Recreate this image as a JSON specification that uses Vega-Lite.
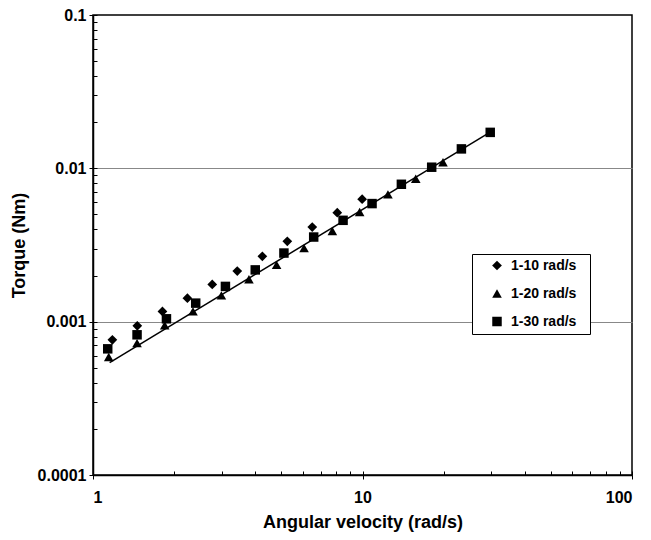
{
  "$schema": "https://vega.github.io/schema/vega-lite/v6.json",
  "autosize": {"type": "none"},
  "width": 539,
  "height": 460,
  "padding": {"left": 93, "top": 15, "right": 19, "bottom": 65},
  "background": "white",
  "config": {
    "font": "Liberation Sans",
    "view": {"stroke": "black", "strokeWidth": 1.5},
    "axis": {
      "labelFont": "Liberation Sans", "labelFontWeight": "bold", "labelFontSize": 16, "labelColor": "black",
      "titleFont": "Liberation Sans", "titleFontWeight": "bold", "titleFontSize": 18, "titleColor": "black",
      "domainColor": "black", "tickColor": "black", "tickWidth": 1
    }
  },
  "datasets": {
    "points": [
      {"velocity": 1.18, "torque": 0.000762, "series": "1-10 rad/s"},
      {"velocity": 1.46, "torque": 0.00094, "series": "1-10 rad/s"},
      {"velocity": 1.81, "torque": 0.001166, "series": "1-10 rad/s"},
      {"velocity": 2.24, "torque": 0.001424, "series": "1-10 rad/s"},
      {"velocity": 2.77, "torque": 0.00175, "series": "1-10 rad/s"},
      {"velocity": 3.43, "torque": 0.00214, "series": "1-10 rad/s"},
      {"velocity": 4.25, "torque": 0.002667, "series": "1-10 rad/s"},
      {"velocity": 5.26, "torque": 0.00334, "series": "1-10 rad/s"},
      {"velocity": 6.51, "torque": 0.00414, "series": "1-10 rad/s"},
      {"velocity": 8.06, "torque": 0.00514, "series": "1-10 rad/s"},
      {"velocity": 9.97, "torque": 0.00629, "series": "1-10 rad/s"},
      {"velocity": 1.144, "torque": 0.000588, "series": "1-20 rad/s"},
      {"velocity": 1.457, "torque": 0.000724, "series": "1-20 rad/s"},
      {"velocity": 1.845, "torque": 0.000945, "series": "1-20 rad/s"},
      {"velocity": 2.35, "torque": 0.001166, "series": "1-20 rad/s"},
      {"velocity": 2.995, "torque": 0.001483, "series": "1-20 rad/s"},
      {"velocity": 3.79, "torque": 0.001891, "series": "1-20 rad/s"},
      {"velocity": 4.8, "torque": 0.002346, "series": "1-20 rad/s"},
      {"velocity": 6.07, "torque": 0.00302, "series": "1-20 rad/s"},
      {"velocity": 7.73, "torque": 0.0039, "series": "1-20 rad/s"},
      {"velocity": 9.76, "torque": 0.00519, "series": "1-20 rad/s"},
      {"velocity": 12.43, "torque": 0.00677, "series": "1-20 rad/s"},
      {"velocity": 15.76, "torque": 0.00855, "series": "1-20 rad/s"},
      {"velocity": 19.89, "torque": 0.01096, "series": "1-20 rad/s"},
      {"velocity": 1.134, "torque": 0.000665, "series": "1-30 rad/s"},
      {"velocity": 1.457, "torque": 0.000821, "series": "1-30 rad/s"},
      {"velocity": 1.873, "torque": 0.001044, "series": "1-30 rad/s"},
      {"velocity": 2.405, "torque": 0.001321, "series": "1-30 rad/s"},
      {"velocity": 3.1, "torque": 0.001698, "series": "1-30 rad/s"},
      {"velocity": 4.0, "torque": 0.002176, "series": "1-30 rad/s"},
      {"velocity": 5.11, "torque": 0.002802, "series": "1-30 rad/s"},
      {"velocity": 6.59, "torque": 0.003564, "series": "1-30 rad/s"},
      {"velocity": 8.47, "torque": 0.004581, "series": "1-30 rad/s"},
      {"velocity": 10.85, "torque": 0.00589, "series": "1-30 rad/s"},
      {"velocity": 13.94, "torque": 0.00787, "series": "1-30 rad/s"},
      {"velocity": 18.06, "torque": 0.01017, "series": "1-30 rad/s"},
      {"velocity": 23.28, "torque": 0.01339, "series": "1-30 rad/s"},
      {"velocity": 29.78, "torque": 0.01716, "series": "1-30 rad/s"}
    ],
    "fit": [
      {"velocity": 1.153, "torque": 0.000541},
      {"velocity": 30.2, "torque": 0.01747}
    ]
  },
  "layer": [
    {
      "data": {"name": "fit"},
      "mark": {"type": "line", "color": "black", "strokeWidth": 1.5},
      "encoding": {
        "x": {
          "field": "velocity", "type": "quantitative",
          "scale": {"type": "log", "domain": [1, 100], "nice": false},
          "axis": {"orient": "bottom", "title": "Angular velocity (rad/s)", "values": [1, 10, 100], "format": "~g",
                   "tickSize": 4, "labelPadding": 10, "titlePadding": 8, "grid": false, "domainWidth": 1.5}
        },
        "y": {
          "field": "torque", "type": "quantitative",
          "scale": {"type": "log", "domain": [0.0001, 0.1], "nice": false},
          "axis": {"orient": "left", "title": "Torque (Nm)", "values": [0.0001, 0.001, 0.01, 0.1], "format": "~g",
                   "tickSize": 4, "labelPadding": 3, "titlePadding": 9, "domainWidth": 1.5,
                   "grid": true, "gridColor": "#888888", "gridWidth": 1,
                   "gridOpacity": {"condition": {"test": "datum.value > 0.0005 && datum.value < 0.05", "value": 1}, "value": 0}}
        }
      }
    },
    {
      "data": {"name": "points"},
      "mark": {"type": "point", "filled": true, "color": "black", "opacity": 1},
      "encoding": {
        "x": {
          "field": "velocity", "type": "quantitative",
          "scale": {"type": "log", "domain": [1, 100], "nice": false},
          "axis": {"orient": "bottom", "title": null, "labels": false, "domain": false, "grid": false, "tickSize": -4,
                   "values": [1, 2, 3, 4, 5, 6, 7, 8, 9, 10, 20, 30, 40, 50, 60, 70, 80, 90, 100]}
        },
        "y": {
          "field": "torque", "type": "quantitative",
          "scale": {"type": "log", "domain": [0.0001, 0.1], "nice": false},
          "axis": {"orient": "left", "title": null, "labels": false, "domain": false, "grid": false, "tickSize": -4,
                   "values": [0.0001, 0.0002, 0.0003, 0.0004, 0.0005, 0.0006, 0.0007, 0.0008, 0.0009, 0.001, 0.002, 0.003, 0.004, 0.005, 0.006, 0.007, 0.008, 0.009, 0.01, 0.02, 0.03, 0.04, 0.05, 0.06, 0.07, 0.08, 0.09, 0.1]}
        },
        "shape": {
          "field": "series", "type": "nominal",
          "scale": {"domain": ["1-10 rad/s", "1-20 rad/s", "1-30 rad/s"], "range": ["diamond", "triangle-up", "square"]},
          "legend": {
            "orient": "none", "legendX": 379, "legendY": 239, "title": "..",
            "titleOrient": "right", "titleFontSize": 14, "titlePadding": 1, "titleColor": "white", "titleOpacity": 0,
            "fillColor": "white", "strokeColor": "black", "padding": 5,
            "symbolOffset": 13, "symbolSize": 55, "symbolFillColor": "black", "symbolStrokeColor": "black", "symbolStrokeWidth": 0,
            "labelFont": "Liberation Sans", "labelFontSize": 14, "labelFontWeight": "bold", "labelColor": "black",
            "labelOffset": 7, "rowPadding": 13, "clipHeight": 13,
            "encode": {"symbols": {"update": {"size": {"value": 55}, "fill": {"value": "black"}, "opacity": {"value": 1}}}}
          }
        },
        "size": {
          "field": "series", "type": "nominal",
          "scale": {"domain": ["1-10 rad/s", "1-20 rad/s", "1-30 rad/s"], "range": [95, 90, 64]}
        }
      }
    }
  ],
  "resolve": {"axis": {"x": "independent", "y": "independent"}}
}
